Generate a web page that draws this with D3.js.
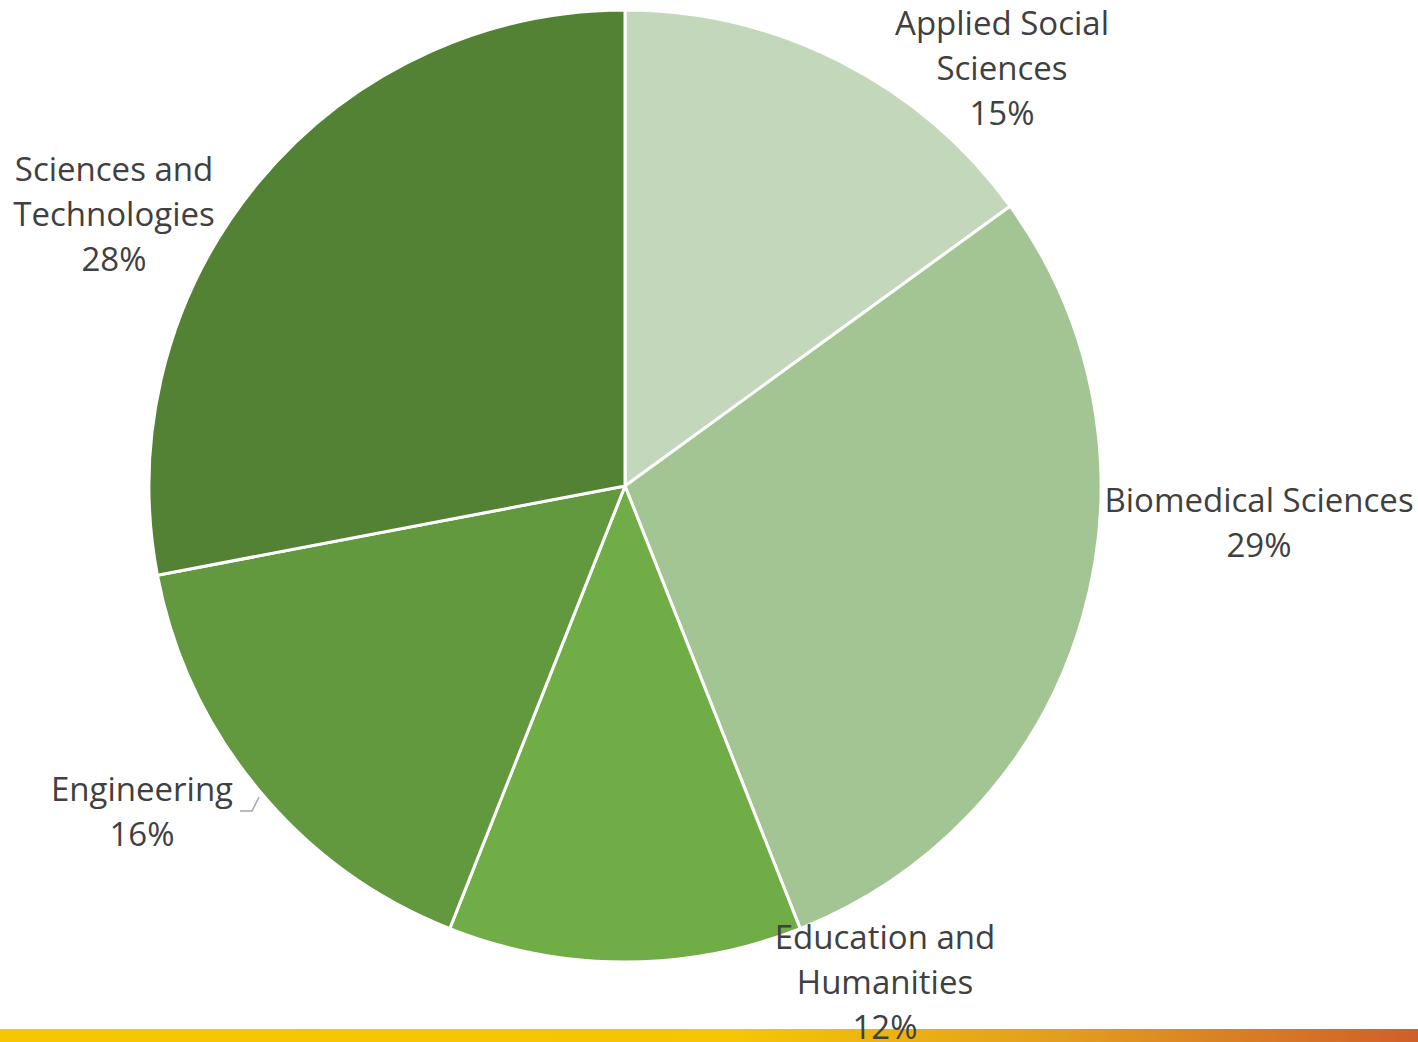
<!DOCTYPE html>
<html>
<head>
<meta charset="utf-8">
<script src="https://cdn.jsdelivr.net/npm/d3@7"></script>
<style>
  html, body { margin: 0; padding: 0; background: #ffffff; }
  svg { display: block; }
</style>
</head>
<body>
<svg id="chart" width="1418" height="1042"></svg>
<script>
// Share of enrolment by field
const categories = ["Applied Social Sciences", "Biomedical Sciences", "Education and Humanities", "Engineering", "Sciences and Technologies"];
const shares = [15, 29, 12, 16, 28];
const labelLines = [
  ["Applied Social", "Sciences"],
  ["Biomedical Sciences"],
  ["Education and", "Humanities"],
  ["Engineering"],
  ["Sciences and", "Technologies"]
];
const sliceColors = ["#c3d8bb", "#a3c593", "#70ad47", "#62993e", "#548235"];

// Label block placement (centre x, first baseline y)
const labelPlacement = [
  { x: 1002, y: 35 },
  { x: 1259, y: 512 },
  { x: 885, y: 949 },
  { x: 142, y: 801 },
  { x: 114, y: 181 }
];

const W = 1418, H = 1042;
const cx = 625, cy = 486, R = 476;
const lineH = 45;

const svg = d3.select("#chart");

// bottom gradient band
const defs = svg.append("defs");
const grad = defs.append("linearGradient").attr("id", "band").attr("x1", "0").attr("x2", "1").attr("y1", "0").attr("y2", "0");
grad.append("stop").attr("offset", "0").attr("stop-color", "#f7c600");
grad.append("stop").attr("offset", "0.52").attr("stop-color", "#f5c506");
grad.append("stop").attr("offset", "0.75").attr("stop-color", "#e39d1f");
grad.append("stop").attr("offset", "1").attr("stop-color", "#cf5f29");

const data = categories.map((c, i) => ({ name: c, value: shares[i], color: sliceColors[i], lines: labelLines[i], place: labelPlacement[i] }));

const pie = d3.pie().value(d => d.value).sort(null);
const arc = d3.arc().innerRadius(0).outerRadius(R);

const g = svg.append("g").attr("transform", `translate(${cx},${cy})`);
g.selectAll("path.slice")
  .data(pie(data))
  .join("path")
  .attr("class", "slice")
  .attr("d", arc)
  .attr("fill", d => d.data.color)
  .attr("stroke", "#ffffff")
  .attr("stroke-width", 3)
  .attr("stroke-linejoin", "round");

svg.append("rect")
  .attr("x", 0).attr("y", 1029)
  .attr("width", W).attr("height", H - 1029)
  .attr("fill", "url(#band)");

// leader line for Engineering
svg.append("polyline")
  .attr("points", "240,811 252,811 259,797")
  .attr("fill", "none")
  .attr("stroke", "#a6a6a6")
  .attr("stroke-width", 1.5);

const labels = svg.append("g")
  .attr("font-family", "'Open Sans', Lato, sans-serif")
  .attr("font-size", 33)
  .attr("fill", "#404040")
  .attr("text-anchor", "middle");

data.forEach(d => {
  const t = labels.append("text");
  const rows = d.lines.concat([d3.format(".0f")(d.value) + "%"]);
  rows.forEach((line, k) => {
    t.append("tspan")
      .attr("x", d.place.x)
      .attr("y", d.place.y + k * lineH)
      .text(line);
  });
});
</script>
</body>
</html>
